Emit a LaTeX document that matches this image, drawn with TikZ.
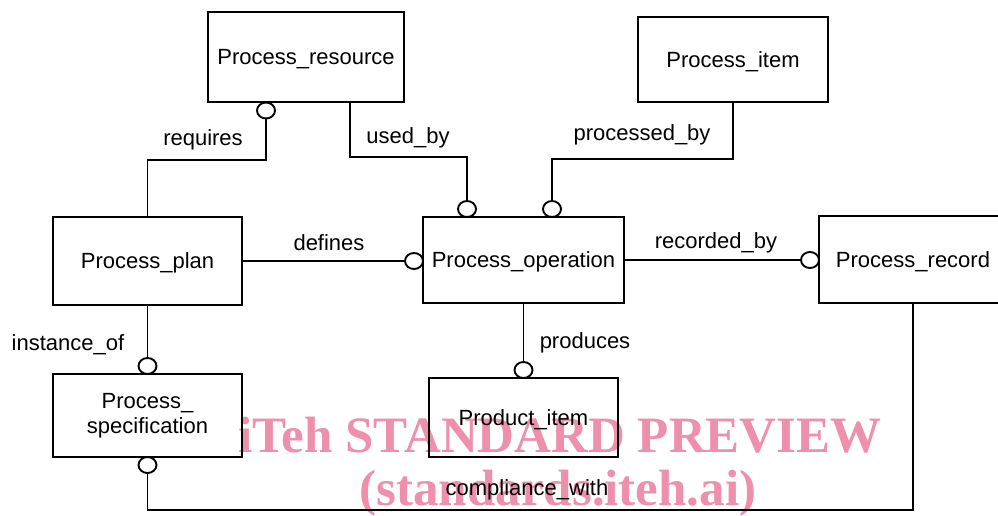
\documentclass[tikz,border=0pt]{standalone}
\usepackage{fontspec}
\setmainfont{Liberation Sans}
\newfontfamily\wmfont{Liberation Serif}
\usetikzlibrary{shapes.geometric}
\definecolor{wmpink}{RGB}{238,143,172}
\begin{document}
\begin{tikzpicture}[x=1pt,y=-1pt,
 ent/.style={draw, line width=1.9pt, inner sep=0pt, font=\fontsize{22}{25}\selectfont, align=center},
 entone/.style={ent, text height=15.8pt, text depth=0pt},
 ocirc/.style={draw, ellipse, fill=white, line width=1.9pt, inner sep=0pt, minimum width=18pt, minimum height=16pt},
 rel/.style={line width=1.9pt},
 lbl/.style={font=\fontsize{22}{25}\selectfont, anchor=base, inner sep=0pt},
 wm/.style={font=\wmfont\bfseries\fontsize{51}{55}\selectfont, text=wmpink, inner sep=0pt, anchor=base}]
\useasboundingbox (0,0) rectangle (998,515);
\clip (0,0) rectangle (998,515);
% watermark
\node[wm] (wm1) at (560,452.5) {iTeh STANDARD PREVIEW};
\node[wm] (wm2) at (558,505) {(standards.iteh.ai)};
% entities
\node[entone, minimum width=196pt, minimum height=90pt] (res) at (306,57) {Process\_resource};
\node[entone, minimum width=190pt, minimum height=85pt] (item) at (733,59.5) {Process\_item};
\node[entone, minimum width=189pt, minimum height=88pt] (plan) at (147.5,261) {Process\_plan};
\node[entone, minimum width=201pt, minimum height=86pt] (op) at (523.5,260) {Process\_operation};
\node[entone, minimum width=188pt, minimum height=87pt] (rec) at (913,259.5) {Process\_record};
\node[ent, minimum width=189pt, minimum height=83pt] (spec) at (147.5,415.5) {Process\_\\specification};
\node[entone, minimum width=189pt, minimum height=79pt] (prod) at (523.5,417.5) {Product\_item};
% circles
\node[ocirc] (cres) at (266,110.5) {};
\node[ocirc] (cop1) at (467,209) {};
\node[ocirc] (cop2) at (552,209) {};
\node[ocirc] (cop3) at (414,261) {};
\node[ocirc] (crec) at (810,260) {};
\node[ocirc] (cprod) at (523.5,370) {};
\node[ocirc] (cspec1) at (147.5,366) {};
\node[ocirc] (cspec2) at (147.5,465) {};
% relationships
\draw[rel] (plan.north) -- (147.5,160) -| (cres.south);
\draw[rel] ([xshift=44pt]res.south) -- (350,157) -| (cop1.north);
\draw[rel] (item.south) -- (733,159) -| (cop2.north);
\draw[rel] (plan.east) -- (cop3.west);
\draw[rel] (op.east) -- (crec.west);
\draw[rel] (op.south) -- (cprod.north);
\draw[rel] (plan.south) -- (cspec1.north);
\draw[rel] (cspec2.south) -- (147.5,510) -| (rec.south);
% labels
\node[lbl] (lreq) at (203,145) {requires};
\node[lbl] (lused) at (408,143) {used\_by};
\node[lbl] (lproc) at (642,140) {processed\_by};
\node[lbl] (ldef) at (329,250) {defines};
\node[lbl] (lrecb) at (716,248) {recorded\_by};
\node[lbl] (linst) at (68,350) {instance\_of};
\node[lbl] (lprod) at (585,348) {produces};
\node[lbl] (lcomp) at (527,495) {compliance\_with};
\end{tikzpicture}
\end{document}
